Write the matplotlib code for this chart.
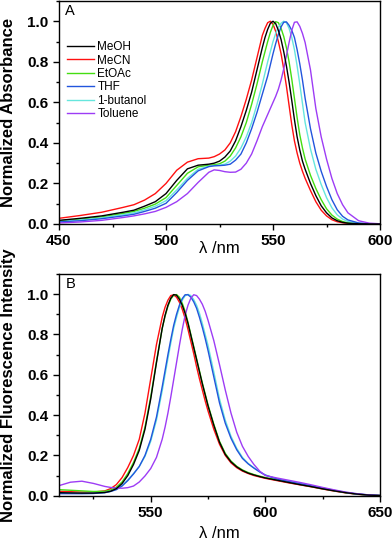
import matplotlib
matplotlib.use("Agg")
import matplotlib.pyplot as plt
from matplotlib.ticker import MultipleLocator

plt.rcParams['font.family'] = ['Liberation Sans', 'DejaVu Sans']

solvents = ["MeOH", "MeCN", "EtOAc", "THF", "1-butanol", "Toluene"]
colors = {"MeOH": "#000000", "MeCN": "#ff1010", "EtOAc": "#44dd11",
          "THF": "#2255dd", "1-butanol": "#66e6dd", "Toluene": "#9d3cf5"}

# absorbance (panel A)
abs_wl = [450, 460, 470, 480, 485, 490, 495, 500, 505, 510, 515, 520,
          522.5, 525, 527.5, 530, 532.5, 535, 537.5, 540, 542.5,
          545, 546.25, 547.5, 548.75, 550, 551.25, 552.5, 553.75, 555, 556.25,
          557.5, 558.75, 560, 561.25, 562.5, 563.75, 565,
          567.5, 570, 572.5, 575, 577.5, 580, 582.5, 585, 590, 595, 600]
abs_meoh = [0.018, 0.028, 0.04, 0.058, 0.068, 0.088, 0.11, 0.15, 0.215, 0.272, 0.29, 0.295,
            0.3, 0.31, 0.33, 0.36, 0.41, 0.48, 0.56, 0.65, 0.76,
            0.87, 0.92, 0.96, 0.99, 1.0, 0.988, 0.955, 0.91, 0.85, 0.78,
            0.7, 0.61, 0.515, 0.43, 0.365, 0.31, 0.27,
            0.2, 0.14, 0.09, 0.055, 0.03, 0.016, 0.008, 0.004, 0.001, 0.0, 0.0]
abs_mecn = [0.028, 0.042, 0.058, 0.082, 0.095, 0.118, 0.15, 0.2, 0.265, 0.305, 0.322, 0.325,
            0.332, 0.345, 0.365, 0.4, 0.455, 0.53, 0.615, 0.71, 0.82,
            0.93, 0.965, 0.993, 1.0, 0.985, 0.95, 0.9, 0.84, 0.765, 0.68,
            0.585, 0.49, 0.41, 0.35, 0.3, 0.26, 0.225,
            0.165, 0.11, 0.068, 0.04, 0.021, 0.011, 0.006, 0.003, 0.001, 0.0, 0.0]
abs_etoac = [0.015, 0.024, 0.035, 0.052, 0.062, 0.078, 0.098, 0.13, 0.19, 0.25, 0.282, 0.29,
             0.292, 0.297, 0.31, 0.335, 0.375, 0.43, 0.5, 0.59, 0.69,
             0.8, 0.85, 0.9, 0.945, 0.98, 0.998, 0.993, 0.965, 0.925, 0.87,
             0.8, 0.715, 0.62, 0.525, 0.44, 0.375, 0.32,
             0.24, 0.175, 0.12, 0.075, 0.044, 0.024, 0.012, 0.006, 0.002, 0.0, 0.0]
abs_thf = [0.01, 0.016, 0.026, 0.04, 0.048, 0.062, 0.078, 0.102, 0.155, 0.215, 0.262, 0.283,
           0.287, 0.288, 0.29, 0.295, 0.315, 0.345, 0.4, 0.47, 0.55,
           0.64, 0.685, 0.73, 0.785, 0.84, 0.89, 0.935, 0.972, 0.995, 0.997,
           0.98, 0.955, 0.92, 0.86, 0.79, 0.71, 0.62,
           0.47, 0.35, 0.26, 0.185, 0.12, 0.07, 0.038, 0.02, 0.005, 0.001, 0.0]
abs_buoh = [0.012, 0.02, 0.03, 0.046, 0.055, 0.07, 0.088, 0.115, 0.168, 0.225, 0.27, 0.285,
            0.288, 0.29, 0.295, 0.31, 0.335, 0.375, 0.43, 0.5, 0.59,
            0.69, 0.745, 0.8, 0.85, 0.9, 0.94, 0.97, 0.99, 1.0, 0.993,
            0.965, 0.92, 0.86, 0.78, 0.69, 0.595, 0.5,
            0.37, 0.27, 0.195, 0.13, 0.08, 0.045, 0.024, 0.012, 0.003, 0.001, 0.0]
abs_tol = [0.005, 0.01, 0.018, 0.032, 0.04, 0.05, 0.062, 0.082, 0.11, 0.15, 0.205, 0.255,
           0.267, 0.264, 0.258, 0.255, 0.256, 0.27, 0.3, 0.345, 0.41,
           0.48, 0.51, 0.54, 0.57, 0.6, 0.63, 0.665, 0.71, 0.765, 0.83,
           0.895, 0.955, 0.995, 0.997, 0.975, 0.94, 0.895,
           0.76, 0.57, 0.43, 0.32, 0.225, 0.15, 0.095, 0.055, 0.016, 0.004, 0.001]

# fluorescence (panel B)
fl_wl = [510, 515, 520, 525, 530, 532.5, 535, 537.5, 540, 542.5, 545, 547.5, 550, 552.5,
         555, 556.25, 557.5, 558.75, 560, 561.25, 562.5, 563.75, 565, 566.25, 567.5,
         568.75, 570, 571.25, 572.5, 573.75, 575,
         577.5, 580, 582.5, 585, 587.5, 590, 592.5, 595, 597.5, 600,
         605, 610, 615, 620, 625, 630, 635, 640, 645, 650]
fl_meoh = [0.015, 0.014, 0.013, 0.013, 0.016, 0.022, 0.035, 0.06, 0.10, 0.155, 0.225, 0.33, 0.48, 0.66,
           0.83, 0.895, 0.945, 0.98, 0.998, 0.995, 0.975, 0.945, 0.905, 0.855, 0.795,
           0.735, 0.675, 0.615, 0.555, 0.5, 0.445,
           0.35, 0.265, 0.205, 0.168, 0.143, 0.125, 0.112, 0.103, 0.095, 0.088,
           0.077, 0.066, 0.055, 0.045, 0.034, 0.024, 0.015, 0.008, 0.003, 0.001]
fl_mecn = [0.022, 0.02, 0.018, 0.018, 0.024, 0.035, 0.055, 0.09, 0.14, 0.2, 0.28, 0.41, 0.58, 0.75,
           0.885, 0.935, 0.97, 0.993, 0.996, 0.985, 0.96, 0.925, 0.88, 0.825, 0.765,
           0.705, 0.64, 0.58, 0.525, 0.47, 0.42,
           0.33, 0.255, 0.2, 0.163, 0.139, 0.122, 0.11, 0.1, 0.093, 0.086,
           0.075, 0.064, 0.054, 0.044, 0.033, 0.023, 0.014, 0.007, 0.003, 0.001]
fl_etoac = [0.03, 0.027, 0.024, 0.021, 0.022, 0.028, 0.042, 0.068, 0.11, 0.165, 0.235, 0.34, 0.49, 0.665,
            0.83, 0.89, 0.94, 0.975, 0.995, 0.998, 0.985, 0.955, 0.915, 0.86, 0.8,
            0.74, 0.68, 0.62, 0.56, 0.505, 0.45,
            0.355, 0.27, 0.21, 0.172, 0.146, 0.128, 0.115, 0.105, 0.097, 0.09,
            0.079, 0.068, 0.057, 0.046, 0.035, 0.025, 0.015, 0.008, 0.003, 0.001]
fl_thf = [0.01, 0.01, 0.01, 0.011, 0.015, 0.021, 0.03, 0.048, 0.075, 0.108, 0.145, 0.2, 0.28, 0.39,
          0.54, 0.62, 0.7, 0.775, 0.845, 0.9, 0.945, 0.978, 0.997, 0.997, 0.985,
          0.962, 0.93, 0.885, 0.835, 0.78, 0.72,
          0.59, 0.46, 0.36, 0.285, 0.228, 0.185, 0.158, 0.137, 0.118, 0.102,
          0.083, 0.071, 0.06, 0.049, 0.037, 0.026, 0.016, 0.008, 0.004, 0.001]
fl_buoh = [0.012, 0.012, 0.012, 0.013, 0.016, 0.022, 0.032, 0.05, 0.078, 0.11, 0.145, 0.195, 0.27, 0.375,
           0.52, 0.6, 0.68, 0.757, 0.83, 0.885, 0.935, 0.97, 0.992, 0.999, 0.993,
           0.973, 0.945, 0.905, 0.855, 0.8, 0.745,
           0.615, 0.48, 0.375, 0.295, 0.235, 0.19, 0.16, 0.138, 0.119, 0.103,
           0.084, 0.072, 0.061, 0.05, 0.038, 0.027, 0.017, 0.009, 0.004, 0.001]
fl_tol = [0.05, 0.067, 0.072, 0.061, 0.046, 0.041, 0.038, 0.037, 0.04, 0.048, 0.068, 0.098, 0.135, 0.19,
          0.28, 0.34, 0.41, 0.49, 0.575, 0.66, 0.745, 0.825, 0.895, 0.945, 0.98,
          0.997, 0.993, 0.975, 0.95, 0.915, 0.87,
          0.77, 0.65, 0.525, 0.41, 0.315, 0.245, 0.195, 0.155, 0.122, 0.1,
          0.088, 0.077, 0.066, 0.054, 0.041, 0.029, 0.018, 0.01, 0.004, 0.001]

abs_data = {"MeOH": abs_meoh, "MeCN": abs_mecn, "EtOAc": abs_etoac,
            "THF": abs_thf, "1-butanol": abs_buoh, "Toluene": abs_tol}
fl_data = {"MeOH": fl_meoh, "MeCN": fl_mecn, "EtOAc": fl_etoac,
           "THF": fl_thf, "1-butanol": fl_buoh, "Toluene": fl_tol}

# drawing order (black ends up on top)
draw_order = ["MeCN", "EtOAc", "1-butanol", "THF", "Toluene", "MeOH"]

fig = plt.figure(figsize=(3.92, 5.43), dpi=100)
ax1 = fig.add_axes([0.1505, 0.5875, 0.819, 0.4107])
ax2 = fig.add_axes([0.1505, 0.0871, 0.819, 0.4083])

lines = {}
for s in draw_order:
    lines[s], = ax1.plot(abs_wl, abs_data[s], color=colors[s], lw=1.0, label=s)
    ax2.plot(fl_wl, fl_data[s], color=colors[s], lw=1.0)

ax1.legend(handles=[lines[s] for s in solvents], loc="upper left",
           bbox_to_anchor=(0.026, 0.82), frameon=False, fontsize=8.5,
           handlelength=2.3, handletextpad=0.25, labelspacing=0.12,
           borderpad=0, borderaxespad=0)

for ax, xl, lab, letter, xlab_y in [
        (ax1, (450, 600), "Normalized Absorbance", "A", -0.075),
        (ax2, (510, 650), "Normalized Fluorescence Intensity", "B", -0.135)]:
    ax.set_xlim(*xl)
    ax.set_ylim(0, 1.1)
    ax.xaxis.set_major_locator(MultipleLocator(50))
    ax.xaxis.set_minor_locator(MultipleLocator(25))
    ax.yaxis.set_major_locator(MultipleLocator(0.2))
    ax.yaxis.set_minor_locator(MultipleLocator(0.1))
    ax.yaxis.set_major_formatter(plt.FormatStrFormatter("%.1f"))
    ax.tick_params(which="major", direction="out", length=4, width=1,
                   labelsize=11, top=False, right=False)
    ax.tick_params(which="minor", direction="out", length=2.5, width=1,
                   top=False, right=False)
    for t in ax.get_xticklabels() + ax.get_yticklabels():
        t.set_fontweight("bold")
    for sp in ax.spines.values():
        sp.set_linewidth(1.0)
    ax.set_ylabel(lab, fontsize=12, fontweight="bold")
    ax.yaxis.set_label_coords(-0.135, 0.5)
    ax.set_xlabel("λ /nm", fontsize=12)
    ax.xaxis.set_label_coords(0.5, xlab_y)
    ax.text(0.02, 0.985, letter, transform=ax.transAxes, fontsize=10.5,
            va="top", ha="left")

fig.savefig("out.png", dpi=100)
